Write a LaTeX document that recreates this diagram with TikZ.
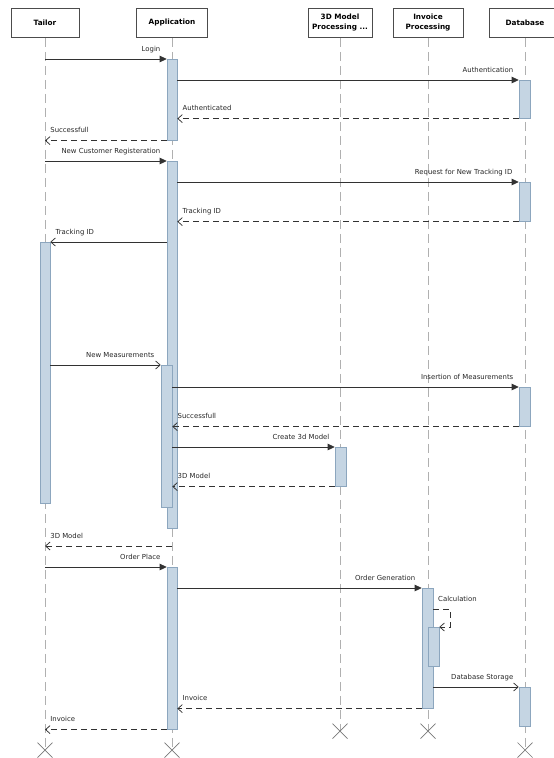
\documentclass[tikz,border=0pt]{standalone}
\usepackage{fontspec}
\setmainfont{DejaVu Sans}
\usetikzlibrary{arrows.meta}
\definecolor{actfill}{RGB}{197,213,227}
\definecolor{actline}{RGB}{140,166,190}
\definecolor{lifegray}{RGB}{176,176,176}
\definecolor{msgline}{RGB}{50,50,50}
\definecolor{killgray}{RGB}{120,120,120}

\begin{document}
\begin{tikzpicture}[x=1pt,y=-1pt,
  head/.style={draw=black!70, line width=0.8pt, fill=white, minimum height=29pt,
    font=\fontsize{7.3}{10}\selectfont\bfseries, align=center, inner sep=1pt, anchor=north},
  life/.style={draw=lifegray, line width=0.9pt, dash pattern=on 9pt off 5pt},
  act/.style={draw=actline, fill=actfill, line width=0.6pt, minimum width=10pt,
    inner sep=0pt, anchor=north},
  call/.style={draw=msgline, line width=0.75pt, -{Triangle[length=7pt,width=6.5pt]}},
  async/.style={draw=msgline, line width=0.75pt, -{Straight Barb[length=4.5pt,width=8pt]}},
  reply/.style={async, dash pattern=on 6pt off 4pt},
  lbl/.style={font=\fontsize{6.9}{7.5}\selectfont, inner sep=0pt, text=black!85},
  rlab/.style={lbl, anchor=base east, xshift=-6pt, yshift=8pt},
  llab/.style={lbl, anchor=base west, xshift=5pt, yshift=8pt},
  kill/.style={draw=killgray, line width=0.7pt},
]
\useasboundingbox (0,0) rectangle (554,758);

% participants
\node[head, minimum width=68pt] (tailor) at (45,8) {Tailor};
\node[head, minimum width=71pt] (app)    at (172,8) {Application};
\node[head, minimum width=64pt] (model)  at (340,8) {3D Model\\Processing ...};
\node[head, minimum width=70pt] (inv)    at (428,8) {Invoice\\Processing};
\node[head, minimum width=72pt] (db)     at (525,8) {Database};

% lifeline ends
\coordinate (endT) at (45,750);
\coordinate (endA) at (172,750);
\coordinate (endM) at (340,731);
\coordinate (endI) at (428,731);
\coordinate (endD) at (525,750);

\draw[life] (tailor.south) -- (endT);
\draw[life] (app.south) -- (endA);
\draw[life] (model.south) -- (endM);
\draw[life] (inv.south) -- (endI);
\draw[life] (db.south) -- (endD);

\foreach \e in {endT,endA,endM,endI,endD}
  \draw[kill] (\e) +(-7.5,-7.5) -- +(7.5,7.5) (\e) +(-7.5,7.5) -- +(7.5,-7.5);

% activation bars
\node[act, minimum height=81pt]  (a1)  at (172,59)  {};
\node[act, minimum height=367pt] (a2)  at (172,161) {};
\node[act, minimum height=142pt, minimum width=11pt] (a2n) at (166.5,365) {};
\node[act, minimum height=162pt] (a3)  at (172,567) {};
\node[act, minimum height=261pt] (tA)  at (45,242)  {};
\node[act, minimum height=38pt, minimum width=11pt]  (d1)  at (524.5,80)  {};
\node[act, minimum height=39pt, minimum width=11pt]  (d2)  at (524.5,182) {};
\node[act, minimum height=39pt, minimum width=11pt]  (d3)  at (524.5,387) {};
\node[act, minimum height=39pt, minimum width=11pt]  (d4)  at (524.5,687) {};
\node[act, minimum height=39pt, minimum width=11pt]  (m1)  at (340.5,447) {};
\node[act, minimum height=120pt, minimum width=11pt] (i1)  at (427.5,588) {};
\node[act, minimum height=39pt, minimum width=11pt]  (i1n) at (433.5,627) {};

% login
\draw[call] (tailor.south |- a1.north) -- (a1.north west) node[rlab] {Login};
\draw[call] (a1.east |- d1.north) -- (d1.north west) node[rlab, xshift=1pt] {Authentication};
\draw[reply] (d1.south west) -- (a1.east |- d1.south) node[llab] {Authenticated};
\draw[reply] (a1.south west) -- (tailor.south |- a1.south) node[llab] {Successfull};

% registration
\draw[call] (tailor.south |- a2.north) -- (a2.north west) node[rlab] {New Customer Registeration};
\draw[call] (a2.east |- d2.north) -- (d2.north west) node[rlab] {Request for New Tracking ID};
\draw[reply] (d2.south west) -- (a2.east |- d2.south) node[llab] {Tracking ID};
\draw[async] (a2.west |- tA.north) -- (tA.north east) node[llab] {Tracking ID};

% measurements
\draw[async] (tA.east |- a2n.north) -- (a2n.north west) node[rlab] {New Measurements};
\draw[call] (a2n.east |- d3.north) -- (d3.north west) node[rlab, xshift=1pt] {Insertion of Measurements};
\draw[reply] (d3.south west) -- (a2n.east |- d3.south) node[llab] {Successfull};
\draw[call] (a2n.east |- m1.north) -- (m1.north west) node[rlab, xshift=1pt] {Create 3d Model};
\draw[reply] (m1.south west) -- (a2n.east |- m1.south) node[llab] {3D Model};
\coordinate (ret3d) at (172,546);
\draw[reply] (ret3d) -- (tailor.south |- ret3d) node[llab] {3D Model};

% ordering
\draw[call] (tailor.south |- a3.north) -- (a3.north west) node[rlab] {Order Place};
\draw[call] (a3.east |- i1.north) -- (i1.north west) node[rlab] {Order Generation};
\coordinate (calc) at (433,609);
\draw[reply] (calc) -- ++(17,0) |- (i1n.north east);
\node[llab] at (calc) {Calculation};
\draw[async] (i1.east |- d4.north) -- (d4.north west) node[rlab, xshift=1pt] {Database Storage};
\draw[reply] (i1.south west) -- (a3.east |- i1.south) node[llab] {Invoice};
\draw[reply] (a3.south west) -- (tailor.south |- a3.south) node[llab] {Invoice};
\end{tikzpicture}
\end{document}
